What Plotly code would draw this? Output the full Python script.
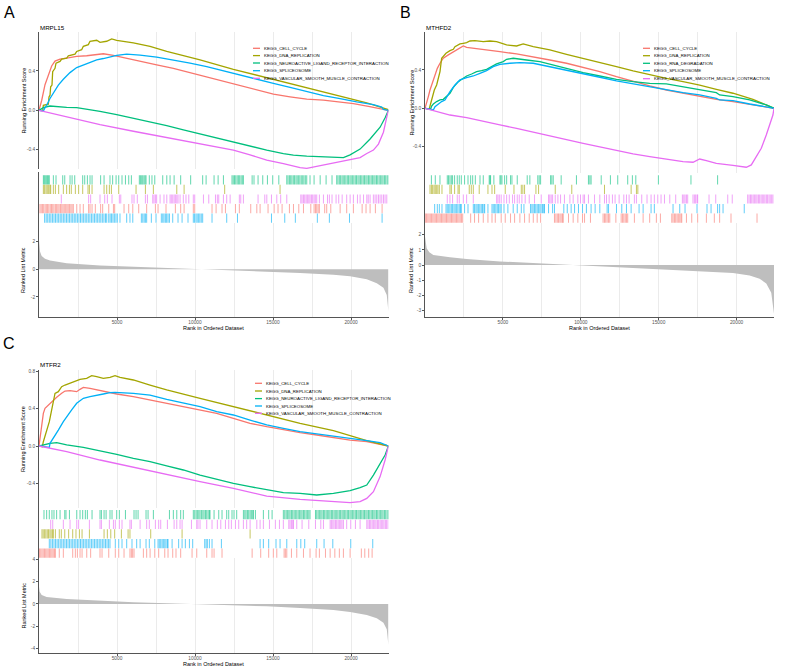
import plotly.graph_objects as go

W, H = 791, 669
FONT = "Liberation Sans, Arial, Helvetica, sans-serif"
COLORS = ["#F8766D", "#A3A500", "#00BF7D", "#00B0F6", "#E76BF3"]
N_GENES = 22400

SETS_A = ["KEGG_CELL_CYCLE", "KEGG_DNA_REPLICATION", "KEGG_NEUROACTIVE_LIGAND_RECEPTOR_INTERACTION",
          "KEGG_SPLICEOSOME", "KEGG_VASCULAR_SMOOTH_MUSCLE_CONTRACTION"]
SETS_B = ["KEGG_CELL_CYCLE", "KEGG_DNA_REPLICATION", "KEGG_RNA_DEGRADATION",
          "KEGG_SPLICEOSOME", "KEGG_VASCULAR_SMOOTH_MUSCLE_CONTRACTION"]
SETS_C = SETS_A
GENES = ["MRPL15", "MTHFD2", "MTFR2"]

X_TICKS = [5000, 10000, 15000, 20000]
X_TICK_TEXT = ["5000", "10000", "15000", "20000"]
X_MINOR = [2500, 7500, 12500, 17500, 22500]

# ---------------- Panel A : running enrichment scores ----------------
A_CELL_RANK = [0, 171, 385, 598, 812, 1026, 1346, 1774, 2415, 3056, 3697, 4124, 4766, 5620, 6475, 7544, 8612, 9681,
               10749, 11818, 12886, 13955, 15023, 16091, 17160, 18229, 19297, 20152, 21114, 22394]
A_CELL_ES = [0, 0.10, 0.26, 0.36, 0.45, 0.50, 0.52, 0.53, 0.547, 0.554, 0.564, 0.574, 0.557, 0.53, 0.503, 0.462, 0.427,
             0.383, 0.335, 0.291, 0.246, 0.205, 0.164, 0.137, 0.113, 0.103, 0.085, 0.068, 0.041, 0]
A_DNA_RANK = [0, 235, 278, 598, 641, 705, 748, 833, 876, 1026, 1090, 1346, 1453, 1774, 1881, 2308, 2415, 2735, 2842,
              3163, 3270, 3697, 3911, 4338, 4659, 4979, 6048, 7116, 8185, 10322, 12459, 14596, 16733, 18870, 21007, 22394]
A_DNA_ES = [0, -0.003, 0.051, 0.062, 0.137, 0.154, 0.239, 0.256, 0.393, 0.427, 0.479, 0.496, 0.52, 0.53, 0.554, 0.571,
            0.598, 0.615, 0.65, 0.667, 0.701, 0.711, 0.69, 0.701, 0.725, 0.711, 0.684, 0.65, 0.598, 0.513, 0.417, 0.332,
            0.246, 0.161, 0.075, 0.007]
A_NEURO_RANK = [0, 278, 705, 1239, 1774, 2415, 3056, 3911, 4979, 6048, 7116, 8185, 9253, 10322, 11390, 12459, 13527,
                14596, 15664, 16305, 17160, 18015, 18870, 19511, 19938, 20579, 21220, 21862, 22182, 22394]
A_NEURO_ES = [0, 0.027, 0.044, 0.034, 0.031, 0.027, 0.014, -0.010, -0.044, -0.079, -0.113, -0.154, -0.198, -0.239,
              -0.280, -0.325, -0.366, -0.403, -0.438, -0.455, -0.465, -0.468, -0.472, -0.479, -0.451, -0.393, -0.291,
              -0.171, -0.075, 0]
A_SPLICE_RANK = [0, 278, 385, 491, 705, 919, 1239, 1560, 1987, 2415, 2842, 3270, 3697, 4124, 4552, 4979, 5620, 6475,
                 7544, 8612, 9681, 10749, 11818, 12886, 13955, 15023, 16091, 17160, 18229, 19297, 20366, 21434, 21968,
                 22075, 22394]
A_SPLICE_ES = [0, -0.007, 0.027, 0.051, 0.120, 0.178, 0.256, 0.315, 0.383, 0.434, 0.462, 0.489, 0.513, 0.526, 0.544,
               0.557, 0.571, 0.561, 0.540, 0.513, 0.479, 0.444, 0.400, 0.356, 0.315, 0.274, 0.233, 0.195, 0.150, 0.120,
               0.085, 0.058, 0.034, 0.010, 0]
A_VSMC_RANK = [0, 1774, 3911, 6048, 8185, 10322, 12459, 13527, 14596, 15664, 16305, 16733, 17160, 17801, 18870, 19938,
               20579, 21007, 21434, 21755, 22075, 22288, 22394]
A_VSMC_ES = [0, -0.068, -0.144, -0.212, -0.274, -0.335, -0.403, -0.451, -0.506, -0.540, -0.564, -0.581, -0.588, -0.568,
             -0.540, -0.506, -0.479, -0.438, -0.403, -0.342, -0.222, -0.068, 0]

# ---------------- Panel A : hits ----------------
A_CELL_HITS = [60, 140, 220, 300, 390, 470, 550, 630, 720, 800, 880, 960, 1050, 1130, 1210, 1290, 1380, 1460, 1540,
               1620, 1710, 1790, 1870, 1950, 2040, 2120, 2200, 2420, 2630, 2840, 3180, 3270, 3400, 3610, 3950, 4080,
               4470, 4770, 4850, 5450, 5750, 6010, 6390, 6900, 7460, 7630, 8140, 8740, 9080, 9300, 9890, 9980, 11090,
               11350, 11730, 11950, 12590, 12840, 13570, 13960, 14170, 14680, 15070, 15320, 15580, 16050, 16310, 16650,
               16950, 17420, 17630, 17720, 17800, 17890, 17970, 18310, 18440, 18700, 19300, 19720, 20150, 20710, 20960,
               21220, 21560, 21990]
A_DNA_HITS = [280, 360, 450, 530, 620, 700, 750, 920, 1050, 1260, 1560, 1770, 1950, 2070, 2330, 2540, 2800, 3140,
              3230, 3400, 4170, 4340, 4510, 4640, 5110, 6220, 6820, 7330, 8830, 9300, 11900, 15450]
A_NEURO_HITS = [280, 340, 400, 470, 540, 600, 660, 920, 1090, 1520, 1650, 1990, 2120, 2290, 2800, 2930, 3100, 3270,
                3400, 3950, 4170, 4550, 4720, 4940, 5110, 5320, 5540, 5750, 5920, 6430, 6500, 6580, 6650, 6730, 6800,
                6860, 7070, 7240, 7420, 7930, 8190, 8400, 8660, 9080, 9720, 10490, 10710, 11220, 11480, 11820, 12370,
                12450, 12530, 12610, 12700, 12780, 12860, 12950, 13030, 13100, 13660, 13780, 14040, 14340, 14640,
                14980, 15370, 15880, 15960, 16050, 16130, 16210, 16300, 16380, 16470, 16550, 16640, 16720, 16810,
                16900, 16980, 17070, 17160, 17370, 17630, 18020, 18400, 18780, 19080, 19160, 19250, 19330, 19420,
                19500, 19590, 19670, 19760, 19840, 19930, 20010, 20100, 20180, 20270, 20350, 20440, 20520, 20610,
                20690, 20780, 20860, 20950, 21030, 21120, 21200, 21290, 21370, 21460, 21540, 21630, 21710, 21800,
                21880, 21970, 22050, 22140, 22220, 22310, 22380]
A_SPLICE_HITS = [360, 460, 560, 660, 760, 860, 960, 1060, 1160, 1260, 1360, 1460, 1560, 1660, 1760, 1860, 1960, 2060,
                 2160, 2260, 2360, 2460, 2560, 2660, 2760, 2860, 2960, 3060, 3160, 3260, 3360, 3460, 3560, 3660, 3760,
                 3860, 3960, 4060, 4160, 4260, 4340, 4470, 4560, 4650, 4740, 4830, 4930, 5020, 5190, 5620, 5830, 6010,
                 6560, 6650, 6740, 6820, 6900, 7200, 7500, 7840, 7930, 8010, 8100, 8180, 8270, 8360, 8570, 8910, 9170,
                 9550, 9890, 9970, 10060, 10140, 10230, 10310, 10400, 10490, 11090, 12030, 12720, 14900, 15750, 16430,
                 17840, 18610, 19900, 21990]
A_VSMC_HITS = [1430, 3180, 3310, 3910, 4210, 4380, 4680, 5150, 5240, 5960, 6090, 6300, 6820, 6950, 7290, 7370, 7460,
               7540, 7760, 8010, 8190, 8400, 8480, 8570, 8660, 8740, 8830, 8910, 9040, 9250, 9420, 9600, 9890, 9980,
               10540, 10880, 11310, 11430, 11520, 11820, 12030, 12250, 12840, 12930, 13100, 14040, 14470, 14600, 14900,
               15240, 15490, 15880, 16780, 16860, 16950, 17030, 17120, 17200, 17290, 17370, 17460, 17540, 17630, 17710,
               17800, 17970, 18230, 18490, 18610, 18780, 19040, 19210, 19430, 19720, 19940, 20150, 20410, 20580, 20800,
               21010, 21100, 21220, 21430, 21540, 21650, 21760, 21860, 21970, 22080, 22180, 22290]

A_METRIC_RANK = [0, 21, 64, 171, 385, 705, 1774, 3911, 6048, 8185, 9894, 12459, 14596, 16733, 18870, 19938, 21007,
                 21648, 22075, 22288, 22394]
A_METRIC_VAL = [2.12, 1.64, 1.28, 0.96, 0.77, 0.63, 0.43, 0.27, 0.19, 0.10, 0, -0.07, -0.17, -0.27, -0.39, -0.51,
                -0.72, -1.01, -1.33, -1.86, -3.06]

# ---------------- Panel B ----------------
B_CELL_RANK = [0, 107, 214, 321, 427, 534, 641, 791, 962, 1175, 1496, 1817, 2137, 2458, 2671, 3740, 4808, 5877, 6945,
               8014, 9082, 10151, 11219, 12288, 13356, 14425, 15493, 16562, 17630, 18699, 19767, 20836, 21263, 22400]
B_CELL_ES = [0, 0.052, 0.122, 0.191, 0.243, 0.296, 0.337, 0.417, 0.470, 0.522, 0.557, 0.591, 0.616, 0.650, 0.636, 0.616,
             0.591, 0.567, 0.539, 0.504, 0.470, 0.428, 0.383, 0.330, 0.278, 0.233, 0.191, 0.157, 0.122, 0.094, 0.070,
             0.042, 0.024, 0]
B_DNA_RANK = [0, 278, 321, 427, 534, 598, 748, 855, 962, 1068, 1175, 1346, 1603, 1817, 1923, 2244, 2458, 2671, 2885,
              3206, 3740, 4167, 4595, 5236, 5877, 6304, 6945, 8014, 9082, 10151, 11219, 12288, 13356, 14425, 15493,
              16562, 17630, 18699, 19767, 21049, 22400]
B_DNA_ES = [0, -0.007, 0.024, 0.087, 0.139, 0.191, 0.243, 0.330, 0.383, 0.522, 0.539, 0.574, 0.601, 0.616, 0.643, 0.671,
            0.678, 0.685, 0.702, 0.706, 0.695, 0.702, 0.695, 0.661, 0.650, 0.671, 0.643, 0.609, 0.563, 0.522, 0.476,
            0.435, 0.390, 0.348, 0.313, 0.278, 0.243, 0.198, 0.157, 0.094, 0]
B_RNA_RANK = [0, 363, 427, 534, 748, 962, 1175, 1389, 1603, 1817, 2137, 2458, 2671, 2992, 3313, 3633, 3954, 4274, 4595,
              5022, 5236, 5663, 6091, 6518, 7373, 8228, 9082, 10151, 11219, 12288, 13356, 14425, 15493, 16562, 17630,
              18699, 18912, 19767, 20836, 21904, 22400]
B_RNA_ES = [0, -0.007, 0.024, 0.045, 0.070, 0.087, 0.094, 0.122, 0.157, 0.219, 0.278, 0.313, 0.337, 0.358, 0.383, 0.393,
            0.407, 0.435, 0.463, 0.487, 0.511, 0.522, 0.511, 0.504, 0.487, 0.452, 0.411, 0.372, 0.337, 0.302, 0.278,
            0.261, 0.254, 0.226, 0.198, 0.163, 0.139, 0.122, 0.087, 0.035, 0]
B_SPLICE_RANK = [0, 214, 534, 641, 855, 1068, 1282, 1603, 1923, 2244, 2671, 3099, 3526, 3954, 4381, 4808, 5449, 6091,
                 6945, 8014, 9082, 10151, 11219, 12288, 13356, 14425, 15493, 16562, 17630, 18699, 18912, 19767, 20836,
                 21904, 22400]
B_SPLICE_ES = [0, -0.007, -0.017, 0.017, 0.045, 0.070, 0.087, 0.174, 0.243, 0.296, 0.320, 0.337, 0.365, 0.393, 0.435,
               0.459, 0.470, 0.476, 0.470, 0.435, 0.393, 0.358, 0.324, 0.285, 0.254, 0.219, 0.191, 0.163, 0.139, 0.104,
               0.087, 0.080, 0.045, 0.017, 0]
B_VSMC_RANK = [0, 534, 1603, 2671, 3740, 4808, 5877, 6945, 8014, 9082, 10151, 11219, 12288, 13356, 14425, 15493, 16562,
               17203, 17630, 18058, 18699, 19767, 20622, 20943, 21263, 21584, 21904, 22118, 22331, 22400]
B_VSMC_ES = [0, -0.024, -0.070, -0.097, -0.139, -0.174, -0.209, -0.250, -0.289, -0.330, -0.365, -0.403, -0.441, -0.476,
             -0.504, -0.532, -0.556, -0.563, -0.529, -0.546, -0.574, -0.595, -0.615, -0.591, -0.504, -0.417, -0.278,
             -0.174, -0.070, 0]

B_CELL_HITS = [20, 100, 180, 260, 340, 420, 500, 580, 660, 740, 820, 900, 980, 1060, 1140, 1220, 1300, 1380, 1460,
               1540, 1620, 1700, 1780, 1860, 1940, 2020, 2100, 2180, 2260, 2340, 2420, 2930, 3180, 3440, 3740, 4040,
               4300, 4510, 4890, 5150, 5490, 5750, 6090, 6390, 6690, 6950, 7200, 7420, 8310, 8400, 8490, 8570, 8660,
               8740, 8830, 8870, 9210, 9510, 9810, 10110, 10240, 10620, 11430, 11520, 11600, 11690, 11780, 11860,
               12250, 12590, 12680, 12760, 12850, 12930, 13010, 13440, 14000, 14420, 14850, 15110, 15840, 15920, 16010,
               16090, 16180, 16260, 16350, 16430, 16480, 16780, 17120, 17500, 18060, 18570, 18910, 19640, 21310]
B_DNA_HITS = [320, 410, 490, 580, 660, 750, 830, 920, 1090, 1600, 1690, 1900, 2120, 2200, 2840, 2970, 3100, 3480, 4040,
              4300, 4470, 5150, 5710, 6180, 6280, 6390, 7120, 7290, 8360, 9420, 11520, 13230, 13570, 13660]
B_RNA_HITS = [410, 660, 960, 1430, 1510, 1600, 1690, 1770, 1900, 2070, 2200, 2330, 2540, 2760, 2930, 3060, 3230, 3530,
              3740, 4120, 4170, 4210, 4420, 4810, 4870, 4940, 5110, 5240, 5490, 5580, 5920, 6560, 6730, 7240, 7330,
              7420, 8060, 8140, 8230, 8740, 9720, 10490, 10580, 10660, 11310, 11900, 12370, 13010, 13310, 13530,
              14980, 17070, 18780]
B_SPLICE_HITS = [620, 790, 920, 1090, 1350, 1430, 1520, 1600, 1690, 1770, 1860, 1940, 2030, 2110, 2200, 2280, 2330,
                 2540, 2760, 3100, 3180, 3270, 3350, 3440, 3520, 3610, 3690, 3780, 3830, 4040, 4300, 4380, 4470, 4550,
                 4640, 4720, 4810, 4890, 5070, 5320, 5660, 5920, 6180, 6350, 6770, 6860, 6940, 7030, 7110, 7200, 7280,
                 7370, 7450, 7540, 7620, 7670, 7930, 8190, 8310, 8910, 9130, 9380, 9600, 9850, 10110, 10360, 10660,
                 10920, 11220, 11690, 11780, 12290, 12630, 12930, 13230, 13740, 14000, 14510, 14720, 15920, 16350,
                 16690, 17460, 18100, 18360, 18780, 18910, 19130, 20490]
B_VSMC_HITS = [1430, 1600, 1770, 2070, 2200, 2460, 2670, 3100, 4600, 4680, 4770, 4890, 5070, 5240, 5410, 5620, 5750,
               5920, 6050, 6220, 6430, 6690, 7030, 7460, 7930, 8010, 8100, 8190, 8360, 8530, 8700, 8950, 9300, 9510,
               9810, 9980, 10150, 10240, 10490, 10880, 11220, 11520, 11650, 11820, 12030, 12200, 12460, 12760, 12930,
               13100, 13440, 13570, 13910, 14250, 14510, 14720, 14940, 15150, 15370, 15710, 16090, 16520, 16610,
               16690, 16780, 16860, 17200, 17290, 17370, 17460, 17500, 18230, 18660, 19430, 19720, 20710, 20800,
               20890, 20970, 21060, 21140, 21230, 21310, 21400, 21480, 21570, 21650, 21740, 21820, 21910, 21990,
               22080, 22160, 22250, 22330]

B_METRIC_RANK = [0, 43, 107, 278, 534, 1603, 2671, 4808, 6945, 9082, 10044, 11219, 13356, 15493, 17630, 19767, 20836,
                 21477, 21904, 22224, 22400]
B_METRIC_VAL = [1.89, 1.44, 1.11, 0.84, 0.67, 0.51, 0.40, 0.24, 0.13, 0.04, 0, -0.07, -0.16, -0.27, -0.38, -0.53, -0.69,
                -0.91, -1.22, -1.84, -3.22]

# ---------------- Panel C ----------------
C_CELL_RANK = [0, 64, 171, 278, 385, 598, 812, 1133, 1453, 1667, 1987, 2415, 2629, 2842, 3270, 3911, 4979, 6048, 7116,
               8185, 9253, 10322, 11390, 12459, 13527, 14596, 15664, 16733, 17801, 18870, 19938, 21007, 22394]
C_CELL_ES = [0, 0.082, 0.207, 0.350, 0.403, 0.439, 0.475, 0.521, 0.564, 0.589, 0.593, 0.582, 0.607, 0.628, 0.618, 0.593,
             0.557, 0.528, 0.493, 0.457, 0.421, 0.386, 0.350, 0.296, 0.243, 0.207, 0.171, 0.143, 0.118, 0.089, 0.064,
             0.046, 0]
C_DNA_RANK = [0, 214, 278, 385, 491, 662, 812, 919, 1026, 1239, 1453, 1667, 1987, 2308, 2629, 3056, 3376, 3697, 4124,
              4552, 4872, 5193, 6048, 7116, 8185, 10322, 12459, 14596, 16733, 18870, 20793, 21007, 22394]
C_DNA_ES = [0, -0.007, 0.046, 0.107, 0.189, 0.261, 0.386, 0.475, 0.564, 0.582, 0.635, 0.653, 0.671, 0.689, 0.714, 0.725,
            0.753, 0.743, 0.725, 0.735, 0.753, 0.735, 0.707, 0.653, 0.600, 0.511, 0.421, 0.332, 0.243, 0.164, 0.071,
            0.057, 0]
C_NEURO_RANK = [0, 278, 705, 1133, 1774, 2842, 3911, 4979, 6048, 7116, 8185, 9253, 10322, 11390, 12459, 13527, 14596,
                15664, 16733, 17801, 18870, 19938, 20579, 21007, 21434, 21862, 22182, 22394]
C_NEURO_ES = [0, 0.011, 0.029, 0.036, 0.011, -0.014, -0.050, -0.089, -0.132, -0.168, -0.214, -0.257, -0.311, -0.357,
              -0.400, -0.436, -0.471, -0.500, -0.507, -0.525, -0.507, -0.478, -0.446, -0.418, -0.311, -0.186, -0.096, 0]
C_SPLICE_RANK = [0, 598, 662, 705, 919, 1239, 1560, 1774, 2094, 2415, 2842, 3270, 3697, 4124, 4552, 4872, 6048, 7116,
                 8185, 9253, 10322, 11390, 12459, 13527, 14596, 15664, 16733, 17801, 18870, 19938, 21007, 21862, 22394]
C_SPLICE_ES = [0, -0.014, -0.014, 0.029, 0.082, 0.171, 0.261, 0.314, 0.386, 0.457, 0.511, 0.528, 0.546, 0.557, 0.571,
               0.575, 0.564, 0.546, 0.500, 0.457, 0.421, 0.368, 0.332, 0.278, 0.225, 0.189, 0.154, 0.129, 0.107, 0.082,
               0.057, 0.036, 0]
C_VSMC_RANK = [0, 1774, 3911, 6048, 8185, 10322, 12459, 14596, 16733, 18870, 19938, 20579, 21007, 21434, 21862, 22182,
               22394]
C_VSMC_ES = [0, -0.061, -0.150, -0.228, -0.311, -0.382, -0.453, -0.536, -0.571, -0.596, -0.607, -0.596, -0.561, -0.489,
             -0.328, -0.150, 0]

C_CELL_HITS = [30, 110, 190, 270, 350, 430, 510, 590, 670, 750, 830, 910, 990, 1050, 1300, 1560, 2160, 2330, 2460, 2630,
               2760, 3060, 3310, 3910, 4040, 4470, 4890, 5110, 5450, 5830, 5920, 6000, 6090, 6690, 6900, 7120, 7420,
               7670, 8060, 8270, 8570, 8780, 9080, 9810, 10110, 10750, 11090, 11220, 11730, 13660, 14210, 14720, 15020,
               15240, 15710, 15790, 15880, 16180, 16520, 16950, 17370, 17760, 17970, 18360, 18660, 18960, 19250, 19510,
               19940, 20660, 20880, 21130, 21350]
C_DNA_HITS = [190, 270, 360, 440, 530, 610, 700, 780, 870, 920, 1050, 1300, 1430, 1650, 1900, 2160, 2370, 2590, 2760,
              3230, 4170, 4380, 4600, 4850, 5280, 5710, 5830, 7160, 9170, 13530]
C_NEURO_HITS = [320, 490, 660, 830, 960, 1130, 1350, 1650, 1730, 1950, 2420, 2630, 2800, 2970, 3100, 3400, 3910, 4000,
                4170, 4300, 4550, 4680, 4980, 5150, 5540, 6090, 6220, 6350, 6860, 6990, 7330, 8360, 8610, 8830, 9080,
                9250, 9890, 9980, 10070, 10150, 10240, 10320, 10410, 10500, 10580, 10670, 10750, 10840, 10920, 10960,
                11220, 11520, 11730, 12030, 12160, 12370, 12500, 12670, 13100, 13190, 13270, 13360, 13440, 13530,
                13610, 13700, 13740, 13870, 14380, 14720, 14940, 15660, 15750, 15840, 15920, 16010, 16090, 16180,
                16260, 16350, 16430, 16520, 16610, 16690, 16780, 16860, 16950, 17030, 17120, 17200, 17290, 17370,
                17720, 17800, 17890, 17970, 18060, 18140, 18230, 18310, 18400, 18480, 18570, 18650, 18740, 18820,
                18910, 18990, 19080, 19160, 19250, 19330, 19420, 19500, 19590, 19670, 19760, 19840, 19930, 20010,
                20100, 20180, 20270, 20350, 20440, 20520, 20610, 20690, 20780, 20860, 20950, 21030, 21120, 21200,
                21290, 21370, 21460, 21540, 21630, 21710, 21800, 21880, 21970, 22050, 22140, 22220, 22310, 22390]
C_SPLICE_HITS = [660, 760, 860, 960, 1060, 1160, 1260, 1360, 1460, 1560, 1660, 1760, 1860, 1960, 2060, 2160, 2260,
                 2360, 2460, 2560, 2660, 2760, 2860, 2960, 3060, 3160, 3260, 3360, 3460, 3560, 3660, 3760, 3860, 3960,
                 4060, 4160, 4260, 4360, 4460, 4550, 4890, 5110, 5320, 5620, 5960, 6260, 6480, 6860, 7070, 7420, 7630,
                 7710, 7800, 7890, 7970, 8060, 8140, 8230, 8270, 8530, 8950, 9170, 9380, 9640, 9850, 10620, 10710,
                 10790, 10920, 11090, 11690, 14170, 14380, 14720, 15190, 15450, 15880, 16520, 16780, 17030, 17800,
                 18270, 18830, 19980, 21390]
C_VSMC_HITS = [750, 880, 1560, 1990, 2420, 2540, 3230, 3910, 4000, 4510, 4770, 4890, 5150, 5320, 5830, 5920, 6480, 6900,
               7070, 7460, 7670, 7800, 8230, 8660, 8830, 9040, 9170, 9770, 10110, 10190, 10320, 10750, 11090, 11430,
               11650, 11950, 12160, 12330, 12590, 12800, 13100, 13310, 13530, 13960, 14170, 14380, 14770, 15150, 15410,
               15660, 16010, 16090, 16180, 16260, 16310, 16520, 16860, 17290, 17720, 18060, 18230, 18660, 18740, 18830,
               18910, 19000, 19080, 19170, 19250, 19340, 19420, 19510, 19720, 19980, 20280, 20580, 21010, 21090, 21180,
               21260, 21350, 21430, 21520, 21600, 21690, 21770, 21860, 21940, 22030, 22110, 22200, 22280, 22370]

C_METRIC_RANK = [0, 43, 171, 491, 1774, 3911, 6048, 8185, 9894, 12459, 14596, 16733, 18870, 19938, 21007, 21648, 22075,
                 22288, 22394]
C_METRIC_VAL = [1.55, 1.10, 0.81, 0.63, 0.45, 0.27, 0.15, 0.06, 0, -0.09, -0.21, -0.36, -0.54, -0.72, -0.99, -1.28,
                -1.67, -2.27, -3.67]

# rows of the hit rug, top to bottom (index into the set lists)
A_RUG_ORDER = [2, 1, 4, 0, 3]
B_RUG_ORDER = [2, 1, 4, 3, 0]
C_RUG_ORDER = [2, 4, 1, 3, 0]

A_ES_TICKS = [-0.4, 0.0, 0.4]
B_ES_TICKS = [-0.4, 0.0, 0.4]
C_ES_TICKS = [-0.4, 0.0, 0.4, 0.8]
A_M_TICKS = [-2, 0, 2]
B_M_TICKS = [-3, -2, -1, 0, 1, 2]
C_M_TICKS = [-4, -2, 0, 2, 4]

panels = [
    dict(label="A", gene=GENES[0], sets=SETS_A,
         curves=[(A_CELL_RANK, A_CELL_ES), (A_DNA_RANK, A_DNA_ES), (A_NEURO_RANK, A_NEURO_ES),
                 (A_SPLICE_RANK, A_SPLICE_ES), (A_VSMC_RANK, A_VSMC_ES)],
         hits=[A_CELL_HITS, A_DNA_HITS, A_NEURO_HITS, A_SPLICE_HITS, A_VSMC_HITS],
         rug_order=A_RUG_ORDER, metric=(A_METRIC_RANK, A_METRIC_VAL),
         es_ticks=A_ES_TICKS, m_ticks=A_M_TICKS,
         x0=39, x1=388.5, top=(32, 169), rug=(172, 223), rug_range=[0, 5.31], bot=(223, 317),
         es_range=[-0.595, 0.795], m_range=[-3.45, 3.35],
         leg_x=253, leg_y=[48.3, 55.6, 63.0, 70.7, 78.3],
         lab=(9, 12.5), title_y=27.7, ylab_x=23, xlab_y=328),
    dict(label="B", gene=GENES[1], sets=SETS_B,
         curves=[(B_CELL_RANK, B_CELL_ES), (B_DNA_RANK, B_DNA_ES), (B_RNA_RANK, B_RNA_ES),
                 (B_SPLICE_RANK, B_SPLICE_ES), (B_VSMC_RANK, B_VSMC_ES)],
         hits=[B_CELL_HITS, B_DNA_HITS, B_RNA_HITS, B_SPLICE_HITS, B_VSMC_HITS],
         rug_order=B_RUG_ORDER, metric=(B_METRIC_RANK, B_METRIC_VAL),
         es_ticks=B_ES_TICKS, m_ticks=B_M_TICKS,
         x0=425, x1=774, top=(32, 173), rug=(173, 223), rug_range=[0, 5.21], bot=(223, 317),
         es_range=[-0.675, 0.796], m_range=[-3.44, 2.78],
         leg_x=643, leg_y=[48.3, 55.7, 63.3, 70.7, 78.7],
         lab=(405, 12.5), title_y=27.7, ylab_x=411, xlab_y=328),
    dict(label="C", gene=GENES[2], sets=SETS_C,
         curves=[(C_CELL_RANK, C_CELL_ES), (C_DNA_RANK, C_DNA_ES), (C_NEURO_RANK, C_NEURO_ES),
                 (C_SPLICE_RANK, C_SPLICE_ES), (C_VSMC_RANK, C_VSMC_ES)],
         hits=[C_CELL_HITS, C_DNA_HITS, C_NEURO_HITS, C_SPLICE_HITS, C_VSMC_HITS],
         rug_order=C_RUG_ORDER, metric=(C_METRIC_RANK, C_METRIC_VAL),
         es_ticks=C_ES_TICKS, m_ticks=C_M_TICKS,
         x0=39, x1=388.5, top=(370, 508), rug=(508, 558), rug_range=[0, 5.2], bot=(558, 653),
         es_range=[-0.664, 0.814], m_range=[-4.39, 4.12],
         leg_x=255, leg_y=[383.3, 391.0, 398.6, 406.0, 413.3],
         lab=(9, 343), title_y=364, ylab_x=23, xlab_y=663.5),
]


def fx(p):
    return p / W


def fy(p):
    return 1 - p / H


def fmt_es(v):
    return f"{v:.1f}".replace("-0.0", "0.0")


def rgba(hex_color, a):
    h = hex_color.lstrip("#")
    return f"rgba({int(h[0:2], 16)},{int(h[2:4], 16)},{int(h[4:6], 16)},{a})"


AX_COL = "#555555"
TICK_FONT = dict(family=FONT, size=4.8, color="#555555")
GRID = "#EBEBEB"

fig = go.Figure()
layout = dict(width=W, height=H, margin=dict(l=0, r=0, t=0, b=0), paper_bgcolor="white",
              plot_bgcolor="white", showlegend=False, barmode="overlay")
annotations = []
shapes = []

for pi, P in enumerate(panels):
    refs = []
    for s in range(3):
        n = pi * 3 + s + 1
        refs.append(("x" if n == 1 else f"x{n}", "y" if n == 1 else f"y{n}",
                     "xaxis" if n == 1 else f"xaxis{n}", "yaxis" if n == 1 else f"yaxis{n}"))
    xdom = [fx(P["x0"]), fx(P["x1"])]

    # --- top: running enrichment score
    xr, yr, xa, ya = refs[0]
    layout[xa] = dict(domain=xdom, range=[0, N_GENES], anchor=yr, showline=False, zeroline=False,
                      showticklabels=False, ticks="", showgrid=True, gridcolor=GRID, gridwidth=0.8,
                      tickmode="linear", tick0=0, dtick=2500)
    layout[ya] = dict(domain=[fy(P["top"][1]), fy(P["top"][0])], range=P["es_range"], anchor=xr,
                      showline=True, linecolor=AX_COL, linewidth=0.8, zeroline=False, showgrid=False,
                      ticks="outside", ticklen=2, tickwidth=0.6, tickcolor=AX_COL,
                      tickvals=P["es_ticks"], ticktext=[fmt_es(v) for v in P["es_ticks"]], tickfont=TICK_FONT)
    for k, (rk, es) in enumerate(P["curves"]):
        fig.add_trace(go.Scatter(x=rk, y=es, mode="lines", line=dict(color=COLORS[k], width=1.3),
                                 xaxis=xr, yaxis=yr, hoverinfo="skip"))

    # --- middle: hit rug
    xr, yr, xa, ya = refs[1]
    layout[xa] = dict(domain=xdom, range=[0, N_GENES], anchor=yr, visible=False)
    layout[ya] = dict(domain=[fy(P["rug"][1]), fy(P["rug"][0])], range=P["rug_range"], anchor=xr,
                      showline=True, linecolor=AX_COL, linewidth=0.8, zeroline=False, showgrid=False,
                      ticks="", showticklabels=False)
    for row, k in enumerate(P["rug_order"]):
        hits = P["hits"][k]
        fig.add_trace(go.Bar(x=hits, y=[0.96] * len(hits), base=[4 - row + 0.02] * len(hits), width=64,
                             marker=dict(color=rgba(COLORS[k], 0.62), line=dict(width=0)),
                             xaxis=xr, yaxis=yr, hoverinfo="skip"))

    # --- bottom: ranked list metric
    xr, yr, xa, ya = refs[2]
    layout[xa] = dict(domain=xdom, range=[0, N_GENES], anchor=yr, showline=True, linecolor=AX_COL,
                      linewidth=0.8, zeroline=False, showgrid=True, gridcolor=GRID, gridwidth=0.8,
                      ticks="outside", ticklen=2, tickwidth=0.6, tickcolor=AX_COL,
                      tickvals=X_TICKS, ticktext=X_TICK_TEXT, tickfont=TICK_FONT, ticklabelstandoff=-2,
                      minor=dict(tickvals=X_MINOR, showgrid=True, gridcolor=GRID, gridwidth=0.8, ticks=""))
    layout[ya] = dict(domain=[fy(P["bot"][1]), fy(P["bot"][0])], range=P["m_range"], anchor=xr,
                      showline=True, linecolor=AX_COL, linewidth=0.8, zeroline=False, showgrid=False,
                      ticks="outside", ticklen=2, tickwidth=0.6, tickcolor=AX_COL,
                      tickvals=P["m_ticks"], ticktext=[str(v) for v in P["m_ticks"]], tickfont=TICK_FONT)
    mr, mv = P["metric"]
    fig.add_trace(go.Scatter(x=mr, y=mv, mode="lines", fill="tozeroy", fillcolor="#BEBEBE",
                             line=dict(width=0, color="#BEBEBE"), xaxis=xr, yaxis=yr, hoverinfo="skip"))

    # --- text
    annotations.append(dict(text=P["label"], x=fx(P["lab"][0]), y=fy(P["lab"][1]), xref="paper", yref="paper",
                            showarrow=False, xanchor="center", yanchor="middle",
                            font=dict(family=FONT, size=16, color="black")))
    annotations.append(dict(text=P["gene"], x=fx(P["x0"] - 1), y=fy(P["title_y"]), xref="paper", yref="paper",
                            showarrow=False, xanchor="left", yanchor="middle",
                            font=dict(family=FONT, size=6.2, color="black")))
    annotations.append(dict(text="Running Enrichment Score", x=fx(P["ylab_x"]),
                            y=fy((P["top"][0] + P["top"][1]) / 2), xref="paper", yref="paper", textangle=-90,
                            showarrow=False, xanchor="center", yanchor="middle",
                            font=dict(family=FONT, size=5.5, color="black")))
    annotations.append(dict(text="Ranked List Metric", x=fx(P["ylab_x"]),
                            y=fy((P["bot"][0] + P["bot"][1]) / 2), xref="paper", yref="paper", textangle=-90,
                            showarrow=False, xanchor="center", yanchor="middle",
                            font=dict(family=FONT, size=5.5, color="black")))
    annotations.append(dict(text="Rank in Ordered Dataset", x=fx((P["x0"] + P["x1"]) / 2), y=fy(P["xlab_y"]),
                            xref="paper", yref="paper", showarrow=False, xanchor="center", yanchor="middle",
                            font=dict(family=FONT, size=5.5, color="black")))
    # --- legend
    for k, name in enumerate(P["sets"]):
        ly = P["leg_y"][k]
        shapes.append(dict(type="line", xref="paper", yref="paper", x0=fx(P["leg_x"]), x1=fx(P["leg_x"] + 7),
                           y0=fy(ly), y1=fy(ly), line=dict(color=COLORS[k], width=1.3)))
        annotations.append(dict(text=name, x=fx(P["leg_x"] + 9), y=fy(ly), xref="paper", yref="paper",
                                showarrow=False, xanchor="left", yanchor="middle",
                                font=dict(family=FONT, size=4.4, color="black")))

layout["annotations"] = annotations
layout["shapes"] = shapes
fig.update_layout(**layout)
fig.write_html("out.html")
